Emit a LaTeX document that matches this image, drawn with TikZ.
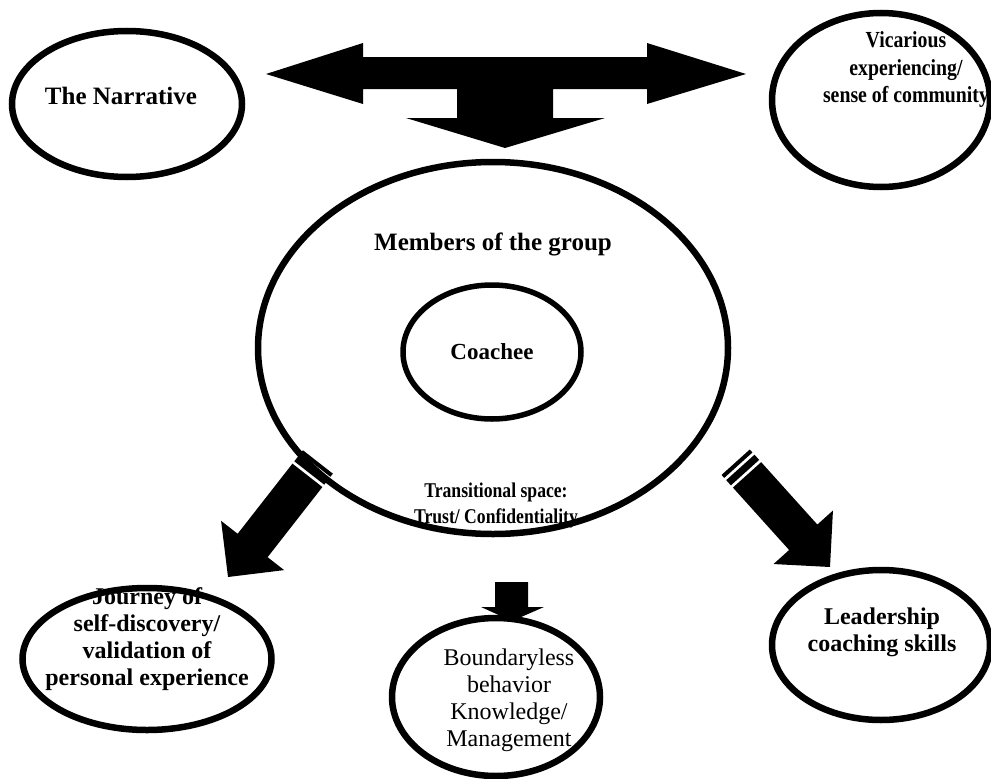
\documentclass[tikz,border=0pt]{standalone}
\usepackage{fontspec}
\setmainfont{Liberation Serif}
\newfontfamily\narrowvic[FakeStretch=0.86]{Liberation Serif}
\newfontfamily\narrowtrans[FakeStretch=0.84]{Liberation Serif}
\usetikzlibrary{shapes.geometric}
\begin{document}
\begin{tikzpicture}[x=1pt,y=1pt,
  oval/.style={draw, ellipse, line width=6.5pt, inner sep=0pt},
  lbl/.style={align=center, inner sep=0pt, font=\fontsize{24}{27}\selectfont\bfseries},
  lblr/.style={align=center, inner sep=0pt, font=\fontsize{24}{27}\selectfont},
  blk/.style={fill=black, draw=none}]
\useasboundingbox (0,0) rectangle (991,-779);

% ellipses
\node[oval, minimum width=230, minimum height=146] (narr) at (127,-104) {};
\node[oval, minimum width=218, minimum height=174] (vic) at (881,-100) {};
\node[oval, minimum width=470, minimum height=372] (grp) at (493,-348) {};
\node[oval, line width=5.5pt, minimum width=178, minimum height=134] (coach) at (492,-352) {};
\node[oval, minimum width=249, minimum height=142] (jour) at (147,-659) {};
\node[oval, minimum width=208, minimum height=158] (bound) at (496,-697) {};
\node[oval, minimum width=218, minimum height=150] (lead) at (881,-645) {};

% texts
\node[lbl, font=\fontsize{25}{27}\selectfont\bfseries] (narrT) at (121,-96) {The Narrative};
\node[lbl, font=\narrowvic\fontsize{23}{27.5}\selectfont\bfseries] (vicT) at (906,-70) {Vicarious\\experiencing/\\sense of community};
\node[lbl, font=\fontsize{25}{27}\selectfont\bfseries] (memT) at (493,-244) {Members of the group};
\node[lbl, font=\fontsize{23}{27}\selectfont\bfseries] (coachT) at (492,-352) {Coachee};
\node[lbl, font=\narrowtrans\fontsize{21}{26}\selectfont\bfseries] (transT) at (496,-505) {Transitional space:\\Trust/ Confidentiality};
\node[lbl] (jourT) at (147,-639) {Journey of\\self-discovery/\\validation of\\personal experience};
\node[lblr] (boundT) at (509,-700) {Boundaryless\\behavior\\Knowledge/\\Management};
\node[lbl] (leadT) at (882,-632) {Leadership\\coaching skills};

% top T-shaped arrow
\fill[blk] (266,-74) -- (363,-43) -- (363,-57) -- (647,-57) -- (647,-43) -- (746,-74)
  -- (647,-104) -- (647,-89) -- (553,-89) -- (553,-118) -- (605,-118) -- (505,-148)
  -- (406,-118) -- (457,-118) -- (457,-89) -- (363,-89) -- (363,-104) -- cycle;

% bottom down arrow
\fill[blk] (495,-582) -- (528,-582) -- (528,-607) -- (544,-607) -- (512,-621)
  -- (481,-607) -- (495,-607) -- cycle;

% striped arrows
\begin{scope}[shift={(228,-577)}, rotate=-128]
  \fill[blk] (0,0) -- (-40,40) -- (-40,19) -- (-129,19) -- (-129,-19) -- (-40,-19) -- (-40,-40) -- cycle;
  \fill[blk] (-146,-19) rectangle (-142,19);
  \fill[blk] (-139,-19) rectangle (-132,19);
\end{scope}
\begin{scope}[shift={(830,-567)}, rotate=-48]
  \fill[blk] (0,0) -- (-40,40) -- (-40,19) -- (-124,19) -- (-124,-19) -- (-40,-19) -- (-40,-40) -- cycle;
  \fill[blk] (-141,-19) rectangle (-137,19);
  \fill[blk] (-134,-19) rectangle (-127,19);
\end{scope}
\end{tikzpicture}
\end{document}
